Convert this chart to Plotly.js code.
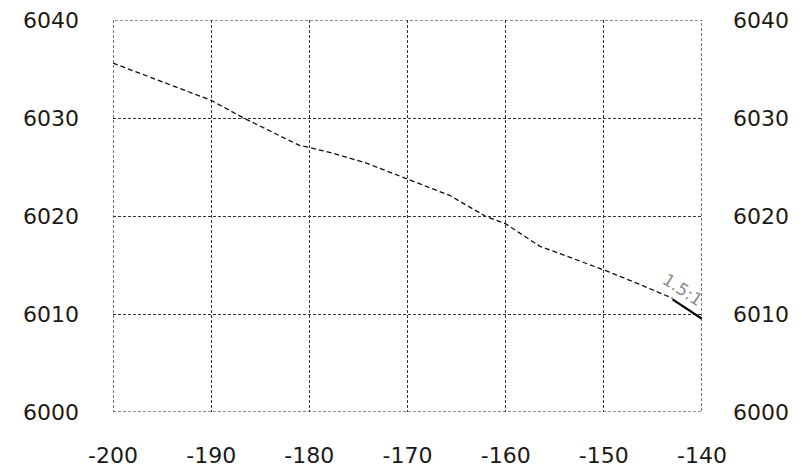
<!DOCTYPE html>
<html>
<head>
<meta charset="utf-8">
<script src="https://cdn.plot.ly/plotly-3.0.1.min.js"></script>
<style>html,body{margin:0;padding:0;background:#fff;}#chart{width:802px;height:472px;}</style>
</head>
<body>
<div id="chart"></div>
<script>
// Ground profile (dashed)
const groundX = [-200, -190, -186.7, -181, -180, -177.6, -174.2, -170, -165.7, -162.1, -160, -156.5, -150, -146.3, -143];
const groundY = [6035.6, 6031.8, 6030.0, 6027.2, 6027.0, 6026.4, 6025.4, 6023.8, 6022.1, 6020.0, 6019.2, 6016.9, 6014.5, 6013.0, 6011.6];
// Slope segment (solid)
const slopeX = [-143, -140];
const slopeY = [6011.5, 6009.5];
const slopeLabel = "1.5:1";
const slopeLabelX = -141.9;
const slopeLabelY = 6012.5;
// Axes
const xTicks = [-200, -190, -180, -170, -160, -150, -140];
const yTicks = [6000, 6010, 6020, 6030, 6040];
const xRange = [-200, -140];
const yRange = [6000, 6040];

const fontFam = "DejaVu Sans, sans-serif";
const gridStyle = {
  showgrid: true, gridcolor: "#333", gridwidth: 1, griddash: "3px,2px",
  zeroline: false, showline: false, ticks: "", ticklen: 0
};

const traces = [
  {x: groundX, y: groundY, mode: "lines", line: {color: "#111", width: 1.3, dash: "5px,3px"}, hoverinfo: "skip", showlegend: false},
  {x: slopeX, y: slopeY, mode: "lines", line: {color: "#000", width: 2.2}, hoverinfo: "skip", showlegend: false},
  {x: slopeX, y: slopeY, yaxis: "y2", mode: "lines", opacity: 0, hoverinfo: "skip", showlegend: false}
];

const layout = {
  width: 802, height: 472,
  margin: {l: 113, r: 100, t: 20, b: 60},
  paper_bgcolor: "#fff", plot_bgcolor: "#fff",
  showlegend: false,
  font: {family: fontFam, size: 22, color: "#1a1a1a"},
  xaxis: Object.assign({}, gridStyle, {range: xRange, tickvals: xTicks, ticktext: xTicks.map(String), ticklabelstandoff: 28}),
  yaxis: Object.assign({}, gridStyle, {range: yRange, tickvals: yTicks, ticktext: yTicks.map(String), ticklabelstandoff: 33}),
  yaxis2: {range: yRange, overlaying: "y", side: "right", tickvals: yTicks, ticktext: yTicks.map(String),
           showgrid: false, zeroline: false, showline: false, ticks: "", ticklabelstandoff: 30},
  shapes: [{
    type: "rect", xref: "x", yref: "y", x0: xRange[0], x1: xRange[1], y0: yRange[0], y1: yRange[1],
    line: {color: "#222", width: 1.2, dash: "3px,2px"}, fillcolor: "rgba(0,0,0,0)", layer: "above"
  }],
  annotations: [{
    x: slopeLabelX, y: slopeLabelY, xref: "x", yref: "y", text: slopeLabel, showarrow: false,
    textangle: 33.7, font: {family: fontFam, size: 17, color: "#8a8a8a"}
  }]
};

Plotly.newPlot("chart", traces, layout, {staticPlot: true, displayModeBar: false});
</script>
</body>
</html>
